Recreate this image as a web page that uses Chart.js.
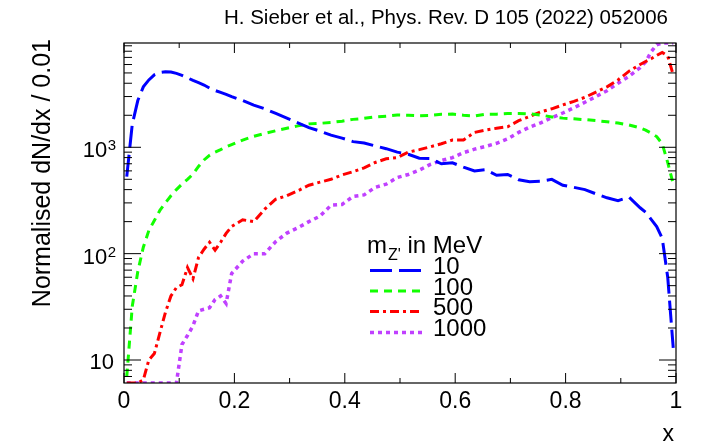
<!DOCTYPE html>
<html>
<head>
<meta charset="utf-8">
<script src="https://cdn.jsdelivr.net/npm/chart.js@4.4.1/dist/chart.umd.min.js"></script>
<style>
  body { margin: 0; background: #fff; }
  canvas { display: block; }
</style>
</head>
<body>
<canvas id="xsec" width="705" height="444"></canvas>
<script>
// bin centres (x) and normalised dN/dx per 0.01 for each Z' mass
const xs = [0.005, 0.015, 0.025, 0.035, 0.045, 0.055, 0.065, 0.075, 0.085, 0.095,
            0.105, 0.115, 0.125, 0.135, 0.145, 0.155, 0.165, 0.175, 0.185, 0.195,
            0.215, 0.235, 0.255, 0.275, 0.295, 0.315, 0.335, 0.355, 0.375, 0.395,
            0.415, 0.435, 0.455, 0.475, 0.495, 0.515, 0.535, 0.555, 0.575, 0.595,
            0.615, 0.635, 0.655, 0.675, 0.695, 0.715, 0.735, 0.755, 0.775, 0.795,
            0.815, 0.835, 0.855, 0.875, 0.895, 0.915, 0.935, 0.945, 0.955, 0.965,
            0.975, 0.985, 0.995];

const m10 = [530, 1650, 2750, 3700, 4300, 4800, 5050, 5130, 5100, 4950,
             4750, 4500, 4250, 4050, 3850, 3600, 3420, 3280, 3150, 3000,
             2750, 2490, 2300, 2080, 1880, 1700, 1530, 1420, 1300, 1220,
             1130, 1095, 1030, 970, 900, 860, 790, 785, 700, 715,
             650, 600, 615, 545, 555, 495, 475, 480, 500, 440,
             420, 400, 365, 335, 315, 340, 270, 245, 210, 180,
             140, 60, 13];

const m100 = [7, 32, 68, 115, 165, 205, 255, 300, 350, 400,
              450, 500, 560, 660, 760, 840, 900, 950, 1010, 1060,
              1170, 1270, 1350, 1430, 1510, 1590, 1660, 1680, 1710, 1760,
              1830, 1870, 1930, 1960, 2010, 2000, 1980, 1990, 2040, 2050,
              2000, 1970, 2050, 2050, 2080, 2080, 2060, 2010, 1930, 1880,
              1850, 1820, 1780, 1740, 1690, 1620, 1520, 1450, 1360, 1260,
              1080, 720, 450];

const m500 = [6.08, 6.08, 6.08, 6.5, 10, 11.5, 18, 28, 40, 48,
              51, 74, 58, 92, 110, 128, 108, 128, 155, 180,
              208, 200, 262, 325, 350, 390, 440, 470, 500, 550,
              590, 640, 720, 780, 800, 900, 950, 1010, 1080, 1170,
              1170, 1380, 1450, 1510, 1560, 1780, 1950, 2150, 2300, 2500,
              2700, 2950, 3300, 3700, 4300, 5200, 6000, 6400, 6800, 7300,
              7800, 7200, 4800];

const m1000 = [6.08, 6.08, 6.08, 6.08, 6.08, 6.08, 6.08, 6.08, 6.08, 6.08,
               14, 17, 21, 29, 30, 31, 37, 40, 34, 65,
               85, 100, 100, 130, 156, 175, 200, 225, 285, 290,
               345, 357, 420, 450, 520, 555, 610, 690, 750, 800,
               890, 960, 1020, 1090, 1200, 1380, 1550, 1700, 1900, 2100,
               2350, 2650, 3000, 3400, 4000, 4650, 5600, 6350, 7900, 9200,
               9560, 9560, 9560];

const massLabels = ['10', '100', '500', '1000'];
const xTicks = [0, 0.2, 0.4, 0.6, 0.8, 1];
const yTicks = [10, 100, 1000];

const FONT = '"Liberation Sans", Arial, Helvetica, sans-serif';

const styles = [
    { color: '#0000ff', dash: [22, 7], width: 3 },
    { color: '#11ff00', dash: [8, 6], width: 3 },
    { color: '#ff0000', dash: [9, 4, 3, 4], width: 3 },
    { color: '#c040ff', dash: [4, 4], width: 3.5 }
];

function toPoints(vals) {
    return xs.map((x, i) => ({ x: x, y: vals[i] }));
}

const series = [m10, m100, m500, m1000];
const datasets = series.map((vals, i) => ({
    label: massLabels[i],
    data: toPoints(vals),
    borderColor: styles[i].color,
    borderWidth: styles[i].width,
    borderDash: styles[i].dash,
    pointRadius: 0,
    tension: 0,
    fill: false
}));

// ROOT-like frame, inner ticks, labels and legend
const rootFrame = {
    id: 'rootFrame',
    afterDraw(chart) {
        const c = chart.ctx;
        const a = chart.chartArea;
        const sx = chart.scales.x;
        const sy = chart.scales.y;
        c.save();
        c.strokeStyle = '#000';
        c.fillStyle = '#000';
        c.setLineDash([]);
        c.lineWidth = 1.2;
        c.strokeRect(a.left, a.top, a.right - a.left, a.bottom - a.top);

        c.lineWidth = 1;
        c.beginPath();
        // x ticks, major every 0.2, minor every 0.1
        for (let k = 0; k <= 10; k++) {
            const v = k / 10;
            const px = sx.getPixelForValue(v);
            const len = k % 2 === 0 ? 10 : 5;
            c.moveTo(px, a.bottom); c.lineTo(px, a.bottom - len);
            c.moveTo(px, a.top); c.lineTo(px, a.top + len);
        }
        // y ticks, log decades
        for (let d = 1; d <= 1000; d *= 10) {
            for (let m = 1; m <= 9; m++) {
                const v = m * d;
                if (v < sy.min || v > sy.max) continue;
                const py = sy.getPixelForValue(v);
                const len = m === 1 ? 17 : 8;
                c.moveTo(a.left, py); c.lineTo(a.left + len, py);
                c.moveTo(a.right, py); c.lineTo(a.right - len, py);
            }
        }
        c.stroke();

        // x tick labels
        c.font = '23px ' + FONT;
        c.textAlign = 'center';
        c.textBaseline = 'alphabetic';
        xTicks.forEach(v => {
            c.fillText(String(v), sx.getPixelForValue(v), 408);
        });

        // y tick labels 10, 10^2, 10^3
        const rightEdge = 116;
        yTicks.forEach(v => {
            const py = sy.getPixelForValue(v);
            const exp = Math.round(Math.log10(v));
            if (exp === 1) {
                c.font = '22px ' + FONT;
                c.textAlign = 'right';
                c.fillText('10', rightEdge - 2, py + 9);
            } else {
                c.font = '15px ' + FONT;
                c.textAlign = 'right';
                const sw = c.measureText(String(exp)).width;
                c.fillText(String(exp), rightEdge, py + 3);
                c.font = '22px ' + FONT;
                c.fillText('10', rightEdge - sw - 0.5, py + 10);
            }
        });

        // axis titles
        c.font = '23px ' + FONT;
        c.textAlign = 'right';
        c.fillText('x', 674, 441);
        c.save();
        c.font = '25px ' + FONT;
        c.translate(50, 39);
        c.rotate(-Math.PI / 2);
        c.textAlign = 'right';
        c.fillText('Normalised dN/dx / 0.01', 0, 0);
        c.restore();

        // reference line on top
        c.font = '20.5px ' + FONT;
        c.textAlign = 'right';
        c.fillText('H. Sieber et al., Phys. Rev. D 105 (2022) 052006', 668, 24);

        // legend
        c.textAlign = 'left';
        c.font = '24px ' + FONT;
        let lx = 367;
        c.fillText('m', lx, 253);
        lx += c.measureText('m').width + 1;
        c.font = '16px ' + FONT;
        c.fillText("Z'", lx, 260);
        lx += c.measureText("Z'").width;
        c.font = '24px ' + FONT;
        c.fillText(' in MeV', lx, 253);

        const rowY = [267.5, 288, 308.5, 329.5];
        massLabels.forEach((lab, i) => {
            const st = styles[i];
            c.save();
            c.strokeStyle = st.color;
            c.lineWidth = st.width;
            c.setLineDash(st.dash);
            c.beginPath();
            c.moveTo(370, rowY[i] + 3);
            c.lineTo(422, rowY[i] + 3);
            c.stroke();
            c.restore();
            c.fillStyle = '#000';
            c.font = '24px ' + FONT;
            c.textBaseline = 'middle';
            c.fillText(lab, 433, rowY[i]);
            c.textBaseline = 'alphabetic';
        });
        c.restore();
    }
};

const ctx = document.getElementById('xsec');
const chart = new Chart(ctx, {
    type: 'line',
    data: { datasets: datasets },
    options: {
        responsive: false,
        animation: false,
        layout: { padding: { left: 124, right: 29, top: 43, bottom: 61 } },
        plugins: {
            legend: { display: false },
            tooltip: { enabled: false }
        },
        scales: {
            x: { type: 'linear', min: 0, max: 1, display: false },
            y: { type: 'logarithmic', min: 6.08, max: 9560, display: false }
        }
    },
    plugins: [rootFrame]
});
</script>
</body>
</html>
